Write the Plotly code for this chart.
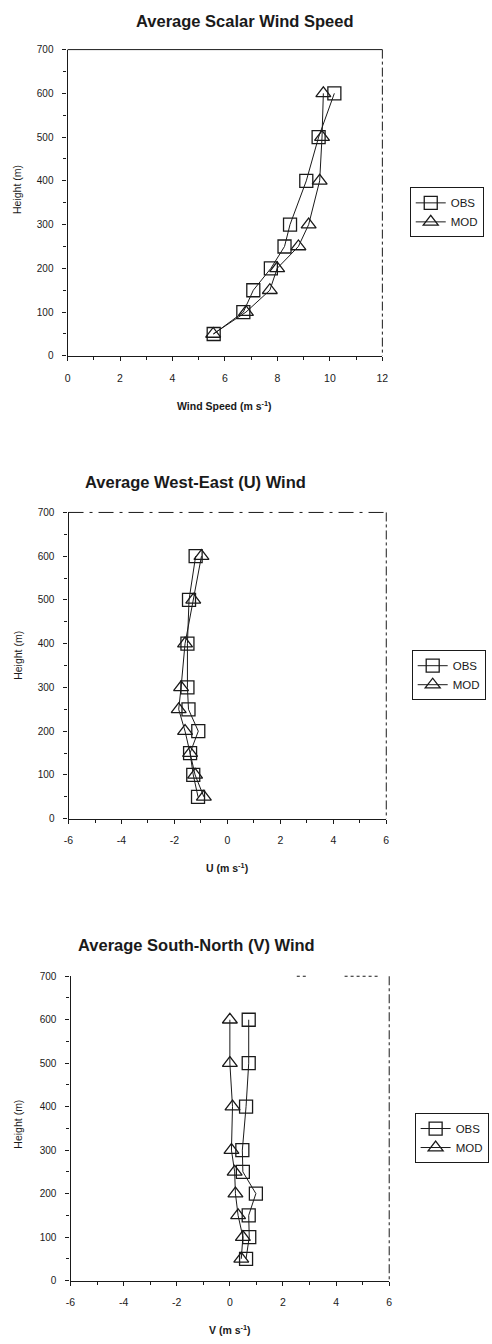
import plotly.graph_objects as go

# Vertical profiles: heights (m) and observed / modelled winds
heights = [50, 100, 150, 200, 250, 300, 400, 500, 600]

speed_obs = [5.57, 6.70, 7.08, 7.75, 8.27, 8.48, 9.10, 9.57, 10.17]
speed_mod = [5.55, 6.80, 7.71, 7.99, 8.80, 9.19, 9.61, 9.70, 9.75]

u_obs = [-1.11, -1.29, -1.41, -1.10, -1.47, -1.51, -1.51, -1.45, -1.20]
u_mod = [-0.89, -1.22, -1.41, -1.60, -1.84, -1.75, -1.60, -1.29, -0.98]

v_obs = [0.61, 0.73, 0.71, 0.98, 0.49, 0.47, 0.61, 0.71, 0.71]
v_mod = [0.43, 0.49, 0.31, 0.21, 0.18, 0.06, 0.10, 0.00, 0.00]

titles = ["Average Scalar Wind Speed",
          "Average West-East (U) Wind",
          "Average South-North (V) Wind"]
x_titles = ["Wind Speed (m s<sup>-1</sup>)",
            "U (m s<sup>-1</sup>)",
            "V (m s<sup>-1</sup>)"]
y_title = "Height (m)"
x_ticks = [[0, 2, 4, 6, 8, 10, 12],
           [-6, -4, -2, 0, 2, 4, 6],
           [-6, -4, -2, 0, 2, 4, 6]]
y_ticks = [0, 100, 200, 300, 400, 500, 600, 700]
series = [(speed_obs, speed_mod), (u_obs, u_mod), (v_obs, v_mod)]

W, H = 492, 1344
FONT = "Liberation Sans, Arial, sans-serif"
INK = "#1a1a1a"

# panel boxes in pixels: left, right, top, bottom
boxes = [(64, 386, 44, 353), (65, 390, 511, 820), (67, 393, 979, 1286)]
legend_pos = [(414, 183), (416, 650), (419, 1117)]
title_pos = [(245, 15, "center"), (80, 480, "left"), (73, 947, "left")]
xtitle_y = [403, 869, 1335]
ytitle_y = [185, 655, 1128]
# top frame segments (fractions of width) and dash styles, right frame dash
top_frame = [[(0.0, 1.0, "solid")],
             [(0.0, 1.0, "longdashdot")],
             [(0.71, 0.74, "dot"), (0.86, 0.97, "dot")]]
right_dash = ["dashdot", "dashdot", "dashdot"]


def px(x):
    return x / W


def py(y):
    return 1 - y / H


def tick_text(v):
    # plain hyphen minus for negative tick labels
    return ("-%d" % abs(v)) if v < 0 else "%d" % v


fig = go.Figure()
layout = dict(
    width=W, height=H, margin=dict(l=0, r=0, t=0, b=0),
    paper_bgcolor="white", plot_bgcolor="white",
    font=dict(family=FONT, color=INK, size=10),
    annotations=[], shapes=[],
)

for i in range(3):
    sfx = "" if i == 0 else str(i + 1)
    xa, ya = "x" + sfx, "y" + sfx
    leg = "legend" + sfx
    obs, mod = series[i]
    fig.add_trace(go.Scatter(
        x=obs, y=heights, xaxis=xa, yaxis=ya, name="OBS", legend=leg,
        mode="lines+markers",
        line=dict(color=INK, width=1),
        marker=dict(symbol="square-open", size=13, color=INK,
                    line=dict(width=1.3, color=INK)),
    ))
    fig.add_trace(go.Scatter(
        x=mod, y=heights, xaxis=xa, yaxis=ya, name="MOD", legend=leg,
        mode="lines+markers",
        line=dict(color=INK, width=1),
        marker=dict(symbol="triangle-up-open", size=13, color=INK,
                    line=dict(width=1.3, color=INK)),
    ))

    l, r, t, b = boxes[i]
    xt = x_ticks[i]
    layout["xaxis" + sfx] = dict(
        domain=[px(l), px(r)], anchor=ya, range=[xt[0], xt[-1]],
        tickmode="array", tickvals=xt, ticktext=[tick_text(v) for v in xt],
        showgrid=False, zeroline=False,
        showline=True, linecolor=INK, linewidth=1.2,
        ticks="outside", ticklen=4, tickcolor=INK, tickwidth=1,
        minor=dict(dtick=1, ticks="outside", ticklen=3, tickcolor=INK),
        ticklabelstandoff=8, tickfont=dict(size=10.5, family=FONT, color=INK),
    )
    layout["yaxis" + sfx] = dict(
        domain=[py(b), py(t)], anchor=xa, range=[0, 700],
        tickmode="array", tickvals=y_ticks,
        showgrid=False, zeroline=False,
        showline=True, linecolor=INK, linewidth=1.2,
        ticks="outside", ticklen=4, tickcolor=INK, tickwidth=1,
        minor=dict(dtick=50, ticks="outside", ticklen=3, tickcolor=INK),
        ticklabelstandoff=7, tickfont=dict(size=10, family=FONT, color=INK),
    )

    lx, ly = legend_pos[i]
    layout[leg] = dict(
        x=px(lx), y=py(ly), xanchor="left", yanchor="top",
        xref="paper", yref="paper",
        bordercolor=INK, borderwidth=1, bgcolor="white",
        font=dict(size=11.5, family=FONT, color=INK),
        tracegroupgap=0, itemwidth=30,
    )

    tx, ty, al = title_pos[i]
    layout["annotations"].append(dict(
        text="<b>%s</b>" % titles[i], x=px(tx), y=py(ty),
        xref="paper", yref="paper", xanchor=al, yanchor="middle",
        showarrow=False, font=dict(size=16.5, family=FONT, color=INK),
    ))
    layout["annotations"].append(dict(
        text="<b>%s</b>" % x_titles[i], x=px((l + r) / 2), y=py(xtitle_y[i]),
        xref="paper", yref="paper", xanchor="center", yanchor="middle",
        showarrow=False, font=dict(size=10.5, family=FONT, color=INK),
    ))
    layout["annotations"].append(dict(
        text=y_title, x=px(13), y=py(ytitle_y[i]), textangle=-90,
        xref="paper", yref="paper", xanchor="center", yanchor="middle",
        showarrow=False, font=dict(size=10.5, family=FONT, color=INK),
    ))

    # top and right frame lines
    for f0, f1, dash in top_frame[i]:
        layout["shapes"].append(dict(
            type="line", xref="paper", yref="paper",
            x0=px(l + f0 * (r - l)), x1=px(l + f1 * (r - l)),
            y0=py(t), y1=py(t),
            line=dict(color=INK, width=1, dash=dash),
        ))
    layout["shapes"].append(dict(
        type="line", xref="paper", yref="paper",
        x0=px(r), x1=px(r), y0=py(t), y1=py(b),
        line=dict(color=INK, width=1, dash=right_dash[i]),
    ))

fig.update_layout(**layout)
fig.write_html("out.html")
